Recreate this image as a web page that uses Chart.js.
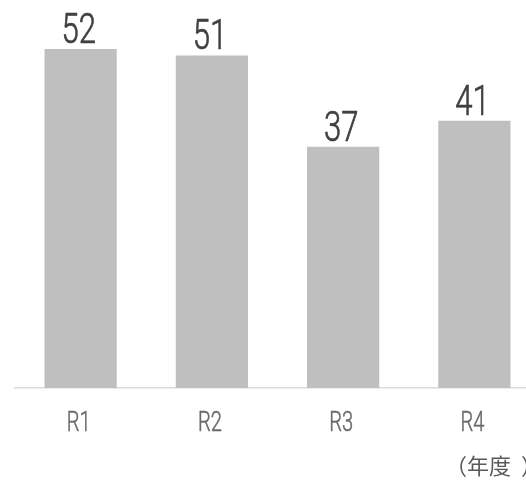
<!DOCTYPE html>
<html>
<head>
<meta charset="utf-8">
<script src="https://cdn.jsdelivr.net/npm/chart.js@4"></script>
<style>
  html, body { margin: 0; padding: 0; background: #fff; overflow: hidden; }
  #wrap { position: relative; width: 560px; height: 481px; }
</style>
</head>
<body>
<div id="wrap"><canvas id="chart" width="560" height="481"></canvas></div>
<script>
const years = ['R1', 'R2', 'R3', 'R4'];
const counts = [52, 51, 37, 41];
const unitLabel = ['（', '年度', '）'];

// draw text squeezed horizontally to get a condensed face
function narrowText(ctx, text, x, y, font, color, squeeze, outline) {
    ctx.save();
    ctx.font = font;
    ctx.fillStyle = color;
    ctx.strokeStyle = color;
    ctx.textAlign = 'center';
    ctx.textBaseline = 'alphabetic';
    ctx.translate(x, y);
    ctx.scale(squeeze, 1);
    ctx.fillText(text, 0, 0);
    if (outline) {
        ctx.lineWidth = outline;
        ctx.strokeText(text, 0, 0);
    }
    ctx.restore();
}

// value labels, category labels and unit label
const textLayer = {
    id: 'textLayer',
    afterDatasetsDraw(chart) {
        const ctx = chart.ctx;
        const meta = chart.getDatasetMeta(0);
        const xScale = chart.scales.x;
        const base = chart.chartArea.bottom;
        meta.data.forEach((bar, i) => {
            narrowText(ctx, String(counts[i]), bar.x - 2, bar.y - 6,
                '300 42px Roboto, sans-serif', '#404040', 0.74, 0.7);
        });
        years.forEach((label, i) => {
            narrowText(ctx, label, xScale.getPixelForValue(i) - 2, base + 43,
                '300 28px Roboto, sans-serif', '#6a6a6a', 0.72, 0.5);
        });
        ctx.save();
        ctx.font = "22px 'Noto Sans CJK JP', sans-serif";
        ctx.fillStyle = '#595959';
        ctx.textAlign = 'left';
        ctx.textBaseline = 'alphabetic';
        let x = 445;
        const gaps = [0, 10, 0];
        unitLabel.forEach((part, i) => {
            ctx.fillText(part, x, base + 86);
            x += ctx.measureText(part).width + gaps[i];
        });
        ctx.restore();
    }
};

new Chart(document.getElementById('chart'), {
    type: 'bar',
    data: {
        labels: years,
        datasets: [{
            data: counts,
            backgroundColor: '#bfbfbf',
            borderWidth: 0,
            categoryPercentage: 1,
            barPercentage: 0.55
        }]
    },
    options: {
        responsive: false,
        animation: false,
        events: [],
        layout: { padding: { left: 15, right: 20, top: 0, bottom: 93 } },
        plugins: {
            legend: { display: false },
            tooltip: { enabled: false }
        },
        scales: {
            x: {
                grid: { display: false, drawTicks: false },
                border: { display: true, color: '#d9d9d9', width: 1.5 },
                ticks: { display: false }
            },
            y: {
                display: false,
                min: 0,
                max: 59.5
            }
        }
    },
    plugins: [textLayer]
});
</script>
</body>
</html>
